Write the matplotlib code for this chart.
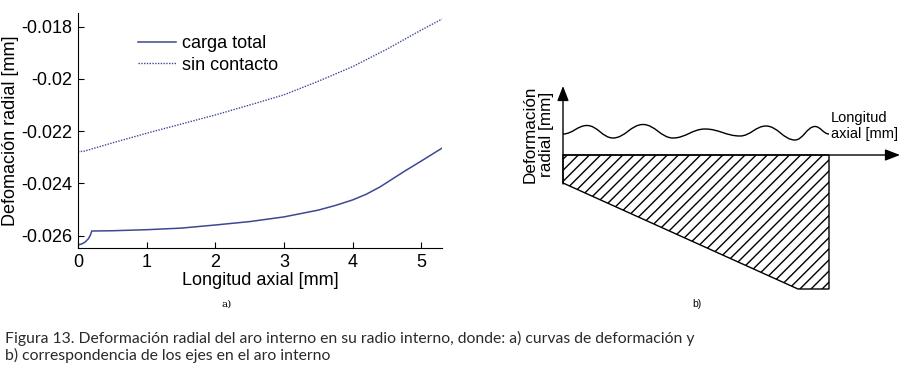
import numpy as np
import matplotlib
matplotlib.use("Agg")
import matplotlib.pyplot as plt
from matplotlib.path import Path
from matplotlib.patches import PathPatch, Polygon

plt.rcParams['font.family'] = ['Liberation Sans', 'DejaVu Sans']

# panel a) data
x_total = [0, 0.05, 0.1, 0.15, 0.18, 0.2, 0.5, 1.0, 1.5, 2.0, 2.5, 3.0, 3.5, 3.75, 4.0,
           4.2, 4.4, 4.75, 5.0, 5.3]
y_total = [-0.02635, -0.02632, -0.02625, -0.02612, -0.02598, -0.02582, -0.02581, -0.02577,
           -0.02571, -0.02559, -0.02546, -0.02528, -0.02502, -0.02484, -0.02463,
           -0.02441, -0.02413, -0.02354, -0.02314, -0.02265]
x_libre = [0, 0.1, 0.5, 1.0, 1.5, 2.0, 2.5, 3.0, 3.5, 4.0, 4.5, 5.0, 5.3]
y_libre = [-0.02279, -0.02276, -0.02245, -0.02208, -0.02173, -0.02138, -0.02100, -0.02061,
           -0.02009, -0.01953, -0.01886, -0.01813, -0.01771]
yticks = [-0.026, -0.024, -0.022, -0.020, -0.018]
yticklabels = ["-0.026", "-0.024", "-0.022", "-0.02", "-0.018"]
xticks = [0, 1, 2, 3, 4, 5]

linecol = "#3d4892"

fig = plt.figure(figsize=(9.04, 3.70), dpi=100)

# ---- panel a ----
ax = fig.add_axes([78/904, 1-248/370, 364/904, 235/370])
ax.plot(x_total, y_total, color=linecol, lw=1.1, label="carga total")
ax.plot(x_libre, y_libre, color=linecol, lw=1.0, ls=(0, (1, 1)), label="sin contacto")
ax.set_xlim(0, 5.3)
ax.set_ylim(-0.02647, -0.01748)
ax.set_xticks(xticks)
ax.set_xticklabels([str(t) for t in xticks])
ax.set_yticks(yticks)
ax.set_yticklabels(yticklabels)
ax.tick_params(direction="in", labelsize=13, length=4, width=0.8, pad=4)
ax.spines["top"].set_visible(False)
ax.spines["right"].set_visible(False)
ax.set_xlabel("Longitud axial [mm]", fontsize=13, labelpad=1)
ax.set_ylabel("Defomación radial [mm]", fontsize=13, labelpad=2)
leg = ax.legend(loc="upper left", bbox_to_anchor=(138/904, 1-35/370),
                bbox_transform=fig.transFigure, frameon=False, fontsize=13,
                handlelength=2.1, handletextpad=0.35, labelspacing=0.25,
                borderpad=0, borderaxespad=0)

fig.text(227/904, 1-304/370, "a)", fontsize=7.5, family="DejaVu Serif",
         ha="center", va="center")

# ---- panel b (schematic) ----
bx = fig.add_axes([0, 0, 1, 1])
bx.set_xlim(0, 904)
bx.set_ylim(370, 0)
bx.axis("off")
bx.patch.set_alpha(0)

# hatched region (pixel coordinates)
region_x = [563, 829, 829, 798, 563]
region_y = [155, 155, 289, 289, 183]
bx.add_patch(Polygon(list(zip(region_x, region_y)), closed=True, facecolor="none",
                     edgecolor="black", hatch="///", lw=1.0))

# axes arrows
bx.annotate("", xy=(563, 86), xytext=(563, 184),
            arrowprops=dict(arrowstyle="-|>,head_length=0.9,head_width=0.35",
                            color="black", lw=1.0, shrinkA=0, shrinkB=0))
bx.annotate("", xy=(900, 155), xytext=(563, 155),
            arrowprops=dict(arrowstyle="-|>,head_length=0.9,head_width=0.35",
                            color="black", lw=1.0, shrinkA=0, shrinkB=0))

# wavy surface through peaks / troughs, horizontal tangents at each point
wave_x = [563, 587, 613, 643, 673, 705, 740, 766, 795, 815, 829]
wave_y = [134, 125.5, 138, 124.5, 138, 129, 136, 126, 140, 126.5, 134]
verts = [(wave_x[0], wave_y[0])]
codes = [Path.MOVETO]
for i in range(len(wave_x) - 1):
    dx = wave_x[i + 1] - wave_x[i]
    verts += [(wave_x[i] + 0.4 * dx, wave_y[i]),
              (wave_x[i + 1] - 0.4 * dx, wave_y[i + 1]),
              (wave_x[i + 1], wave_y[i + 1])]
    codes += [Path.CURVE4] * 3
bx.add_patch(PathPatch(Path(verts, codes), facecolor="none", edgecolor="black", lw=1.0))

bx.text(538, 134, "Deformación\nradial [mm]", rotation=90, fontsize=12.3,
        ha="center", va="center", linespacing=1.12)
bx.text(831, 126, "Longitud\naxial [mm]", fontsize=10.5, ha="left", va="center",
        linespacing=1.15)
bx.text(697, 304, "b)", fontsize=7.5, ha="center", va="center")

# caption
cap = ("Figura 13. Deformación radial del aro interno en su radio interno, donde: a) curvas de deformación y\n"
       "b) correspondencia de los ejes en el aro interno")
bx.text(5, 347, cap, fontsize=11.35, family=["Lato", "DejaVu Sans"], color="#2a2a2a",
        ha="left", va="center", linespacing=1.17)

fig.savefig("out.png", dpi=100)
